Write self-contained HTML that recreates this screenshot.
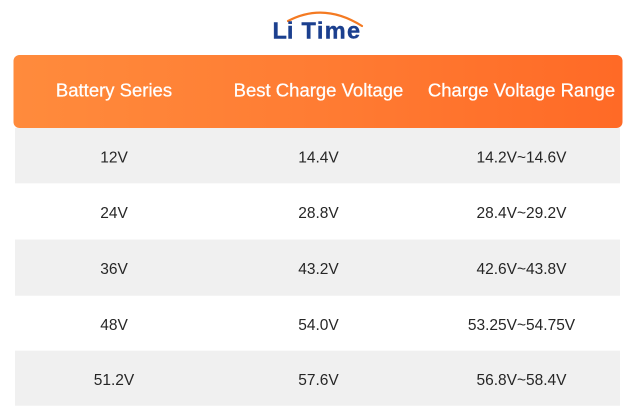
<!DOCTYPE html>
<html>
<head>
<meta charset="utf-8">
<style>
  html,body{margin:0;padding:0;background:#fff;}
  body{width:636px;height:420px;overflow:hidden;}
  svg{display:block;}
</style>
</head>
<body>
<svg width="636" height="420" viewBox="0 0 636 420" xmlns="http://www.w3.org/2000/svg">
  <defs>
    <linearGradient id="hg" x1="0" y1="0" x2="1" y2="0">
      <stop offset="0" stop-color="#ff8b3c"/>
      <stop offset="0.5" stop-color="#ff7c33"/>
      <stop offset="1" stop-color="#ff6a26"/>
    </linearGradient>
  </defs>
  <rect width="636" height="420" fill="#fff"/>

  <!-- Logo -->
  <path d="M288 21 Q324 2 362 26" fill="none" stroke="#f47a22" stroke-width="2.2" stroke-linecap="round"/>
  <text x="272.5" y="38.5" font-family="Liberation Sans, sans-serif" font-weight="bold" font-size="23.5" fill="#1b3f8e" stroke="#1b3f8e" stroke-width="0.4">Li</text>
  <text x="301.5" y="38.5" font-family="Liberation Sans, sans-serif" font-weight="bold" font-size="23.5" letter-spacing="1.4" fill="#1b3f8e" stroke="#1b3f8e" stroke-width="0.4">Time</text>

  <!-- Header -->
  <rect x="13.5" y="55" width="609" height="73" rx="6" ry="6" fill="url(#hg)"/>
  <g font-family="Liberation Sans, sans-serif" font-size="18.5" fill="#ffffff" stroke="#ffffff" stroke-width="0.25" text-anchor="middle">
    <text x="114" y="96.6">Battery Series</text>
    <text x="318.5" y="96.6">Best Charge Voltage</text>
    <text x="521.5" y="96.6">Charge Voltage Range</text>
  </g>

  <!-- Rows -->
  <rect x="15" y="128" width="605" height="55.3" fill="#f0f0f0"/>
  <rect x="15" y="239.5" width="605" height="56.2" fill="#f0f0f0"/>
  <rect x="15" y="350.7" width="605" height="55" fill="#f0f0f0"/>

  <g font-family="Liberation Sans, sans-serif" font-size="15.5" fill="#262626" text-anchor="middle">
    <text x="114" y="162.6">12V</text>
    <text x="318.5" y="162.6">14.4V</text>
    <text x="521.5" y="162.6">14.2V~14.6V</text>

    <text x="114" y="218.2">24V</text>
    <text x="318.5" y="218.2">28.8V</text>
    <text x="521.5" y="218.2">28.4V~29.2V</text>

    <text x="114" y="274.2">36V</text>
    <text x="318.5" y="274.2">43.2V</text>
    <text x="521.5" y="274.2">42.6V~43.8V</text>

    <text x="114" y="330">48V</text>
    <text x="318.5" y="330">54.0V</text>
    <text x="521.5" y="330">53.25V~54.75V</text>

    <text x="114" y="385">51.2V</text>
    <text x="318.5" y="385">57.6V</text>
    <text x="521.5" y="385">56.8V~58.4V</text>
  </g>
</svg>
</body>
</html>
